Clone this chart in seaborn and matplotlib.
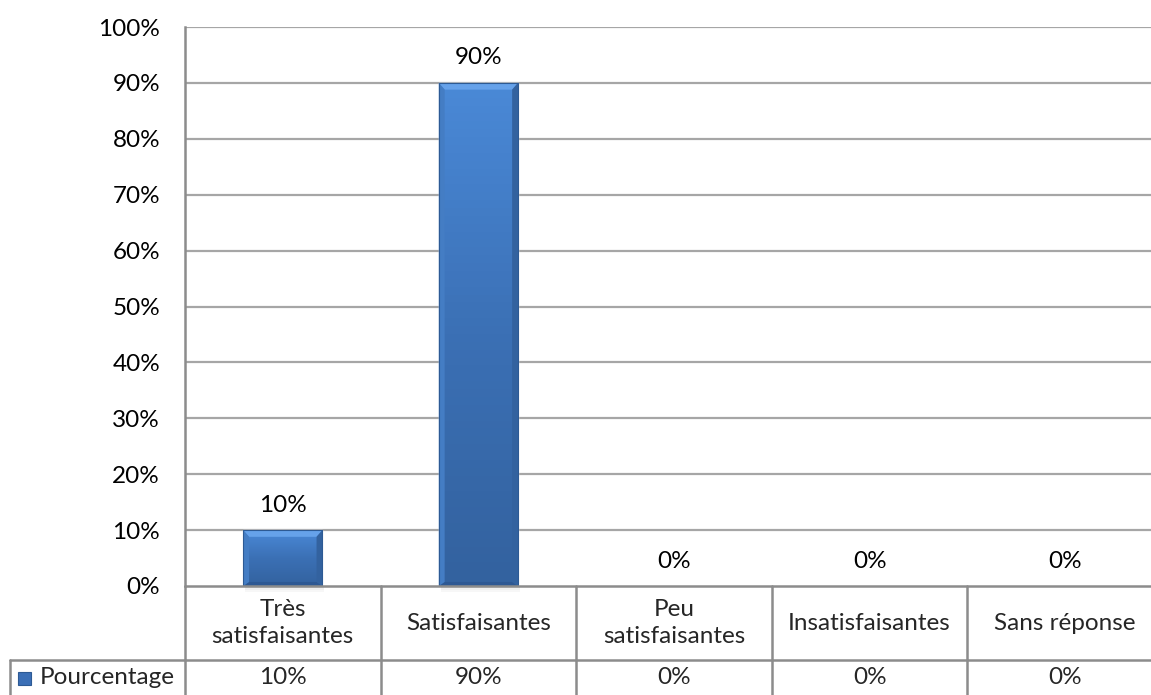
import numpy as np
import pandas as pd
import matplotlib
matplotlib.use("Agg")
import matplotlib.pyplot as plt
import matplotlib.transforms as mtransforms
from matplotlib.lines import Line2D
from matplotlib.patches import Rectangle, Polygon
from matplotlib.colors import LinearSegmentedColormap
import seaborn as sns

categories = ["Très\nsatisfaisantes", "Satisfaisantes", "Peu\nsatisfaisantes",
              "Insatisfaisantes", "Sans réponse"]
values = [10, 90, 0, 0, 0]
series_name = "Pourcentage"
yticks = list(range(0, 101, 10))

sns.set_theme(style="white")
plt.rcParams["font.family"] = ["Lato", "DejaVu Sans"]
FS = 17.5

W, H = 1151, 695
fig = plt.figure(figsize=(W / 100, H / 100), dpi=100)
ax = fig.add_axes([185 / W, 109 / H, (1163 - 185) / W, 559 / H])

df = pd.DataFrame({"cat": categories, "val": values})
sns.barplot(data=df, x="cat", y="val", color="#3b6fb6", width=0.405,
            ax=ax, zorder=3, saturation=1)

ax.set_xlim(-0.5, len(categories) - 0.5)
ax.set_ylim(0, 100)
ax.set_yticks(yticks)
ax.set_yticklabels([f"{t}%" for t in yticks], fontsize=FS, color="black")
ax.tick_params(axis="y", length=0, pad=18)
ax.set_xticks([])
ax.set_xlabel("")
ax.set_ylabel("")
for t in yticks[1:]:
    ax.axhline(t, color="#a6a6a6", lw=1.6, zorder=1)
for s in ["top", "right", "bottom"]:
    ax.spines[s].set_visible(False)
ax.spines["left"].set_color("#8c8c8c")
ax.spines["left"].set_linewidth(1.8)

# bar shading: vertical gradient body plus bevelled edges
grad = LinearSegmentedColormap.from_list("g", ["#4a89d7", "#3b70b5", "#33629f"])
bx = 0.03    # bevel width in x data units
for p in list(ax.patches):
    x0, w, h = p.get_x(), p.get_width(), p.get_height()
    if h <= 0:
        continue
    x1 = x0 + w
    by = 1.2
    # soft shadow beneath bar
    for k, a in enumerate([0.10, 0.06, 0.03]):
        ax.add_patch(Rectangle((x0 + 0.01, -0.35 * (k + 1)), w, 0.35,
                               color="black", alpha=a, zorder=2,
                               clip_on=False, lw=0))
    im = ax.imshow(np.linspace(0, 1, 64).reshape(-1, 1), cmap=grad,
                   extent=[x0, x1, 0, h], origin="upper", aspect="auto",
                   zorder=3.5)
    im.set_clip_path(p)
    bevels = [
        ([(x0, h), (x1, h), (x1 - bx, h - by), (x0 + bx, h - by)], "#66a2ea"),
        ([(x0, 0), (x1, 0), (x1 - bx, by * 0.6), (x0 + bx, by * 0.6)], "#2d5893"),
        ([(x0, 0), (x0, h), (x0 + bx, h - by), (x0 + bx, by * 0.6)], "#447dc4"),
        ([(x1, 0), (x1, h), (x1 - bx, h - by), (x1 - bx, by * 0.6)], "#33629f"),
    ]
    for pts, c in bevels:
        ax.add_patch(Polygon(pts, closed=True, color=c, lw=0, zorder=3.7))
    ax.add_patch(Rectangle((x0, 0), w, h, fill=False, ec="#2d5a94",
                           lw=0.8, zorder=3.8))

# value labels above bars
for i, v in enumerate(values):
    ax.annotate(f"{v}%", (i, v), xytext=(0, 18), textcoords="offset points",
                ha="center", va="center", fontsize=FS, color="black")

# data table under the plot
tr = mtransforms.blended_transform_factory(ax.transData, ax.transAxes)
trf = mtransforms.blended_transform_factory(fig.transFigure, ax.transAxes)
row1 = -74 / 559
row2 = -115 / 559
ymid2 = -92 / 559
lc = "#8c8c8c"
lw = 1.8
n = len(categories)
ax.add_line(Line2D([-0.5, n - 0.5], [0, 0], transform=tr, color=lc, lw=lw,
                   clip_on=False, zorder=4))
ax.add_line(Line2D([-0.5, n - 0.5], [row1, row1], transform=tr, color=lc,
                   lw=lw, clip_on=False))
ax.add_line(Line2D([10 / W, 185 / W], [row1, row1], transform=trf, color=lc,
                   lw=lw, clip_on=False))
ax.add_line(Line2D([10 / W, 10 / W], [row1, row2], transform=trf, color=lc,
                   lw=lw, clip_on=False))
for b in np.arange(-0.5, n, 1.0):
    ax.add_line(Line2D([b, b], [0, row2], transform=tr, color=lc, lw=lw,
                       clip_on=False))
for i, (c, v) in enumerate(zip(categories, values)):
    ax.text(i, row1 / 2, c, transform=tr, ha="center", va="center",
            fontsize=FS, linespacing=1.3)
    ax.text(i, ymid2, f"{v}%", transform=tr, ha="center",
            va="center", fontsize=FS)

# legend key in the table
kh = 13 / 559
ax.add_patch(Rectangle((18 / W, ymid2 - kh / 2), 13 / W, kh, transform=trf,
                       facecolor="#3b6fb6", edgecolor="#2d5a94", lw=0.8,
                       clip_on=False))
ax.text(40 / W, ymid2, series_name, transform=trf, ha="left", va="center",
        fontsize=FS)

fig.savefig("out.png", dpi=100, facecolor="white")
